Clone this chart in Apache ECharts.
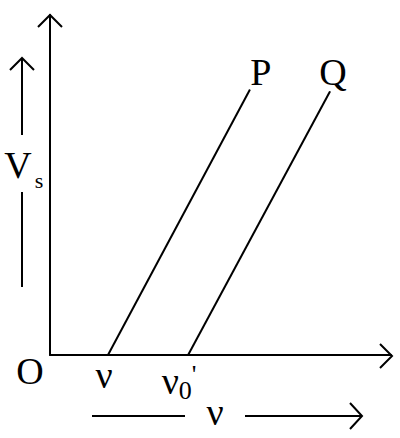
<!DOCTYPE html>
<html><head><meta charset="utf-8">
<script src="https://cdn.jsdelivr.net/npm/echarts@6/dist/echarts.min.js"></script>
<style>html,body{margin:0;padding:0;background:#fff}#c{width:400px;height:438px}</style>
</head><body><div id="c"></div>
<script>
// frequency (x) and stopping potential (y), arbitrary units
const freqP = [17.0, 58.6];
const vsP   = [0, 78];
const freqQ = [40.5, 82.1];
const vsQ   = [0, 77.5];
const lineNames = ['P', 'Q'];
const thresholdLabels = ['ν', "{n|ν}{s|0}{p|'}"];

const FONT = 'Liberation Serif';
const chart = echarts.init(document.getElementById('c'), null, {renderer: 'svg'});

function mkData(xs, ys, startLabel, endLabel, startOff, endOff) {
  return xs.map((x, i) => ({
    value: [x, ys[i]],
    label: {
      show: true,
      position: 'inside',
      align: 'center',
      verticalAlign: 'middle',
      formatter: i === 0 ? startLabel : endLabel,
      offset: i === 0 ? startOff : endOff,
      fontFamily: FONT,
      fontSize: 38,
      color: '#000',
      rich: {
        n: {fontFamily: FONT, fontSize: 38, color: '#000'},
        s: {fontFamily: FONT, fontSize: 26, color: '#000', padding: [18, 0, 0, 0]},
        p: {fontFamily: FONT, fontSize: 26, color: '#000', padding: [0, 0, 14, 0]}
      }
    }
  }));
}

const axisCommon = {
  type: 'value', min: 0, max: 100,
  axisLine: {show: true, onZero: false, lineStyle: {color: '#000', width: 2}},
  axisTick: {show: false}, axisLabel: {show: false}, splitLine: {show: false}
};

const K = {type: 'polyline', style: {stroke: '#000', lineWidth: 2, fill: null}};
const T = (x, y, text, size) => ({type: 'text', x, y, style: {text, fontFamily: FONT, fontSize: size, fill: '#000', align: 'center', verticalAlign: 'middle'}});

chart.setOption({
  animation: false,
  grid: {left: 50, top: 15, right: 9, bottom: 83},
  xAxis: axisCommon,
  yAxis: axisCommon,
  series: [
    {type: 'line', symbol: 'circle', symbolSize: 1, itemStyle: {color: '#000'},
     lineStyle: {color: '#000', width: 2},
     data: mkData(freqP, vsP, thresholdLabels[0], lineNames[0], [-4, 20], [11, -18])},
    {type: 'line', symbol: 'circle', symbolSize: 1, itemStyle: {color: '#000'},
     lineStyle: {color: '#000', width: 2},
     data: mkData(freqQ, vsQ, thresholdLabels[1], lineNames[1], [-9, 26], [3, -20])}
  ],
  graphic: [
    // axis arrowheads
    Object.assign({}, K, {shape: {points: [[38, 27], [50, 15], [62, 27]]}}),
    Object.assign({}, K, {shape: {points: [[380, 344], [392, 356], [380, 368]]}}),
    // Vs side arrow
    Object.assign({}, K, {shape: {points: [[22, 135], [22, 58]]}}),
    Object.assign({}, K, {shape: {points: [[10, 70], [22, 58], [34, 70]]}}),
    Object.assign({}, K, {shape: {points: [[22, 192], [22, 287]]}}),
    // bottom nu arrow
    Object.assign({}, K, {shape: {points: [[92, 416], [185, 416]]}}),
    Object.assign({}, K, {shape: {points: [[245, 416], [362, 416]]}}),
    Object.assign({}, K, {shape: {points: [[350, 403], [362, 416], [350, 429]]}}),
    T(30, 371, 'O', 38),
    T(18, 165, 'V', 38),
    T(39, 180, 's', 22),
    T(215, 412, 'ν', 38)
  ]
});
</script></body></html>
